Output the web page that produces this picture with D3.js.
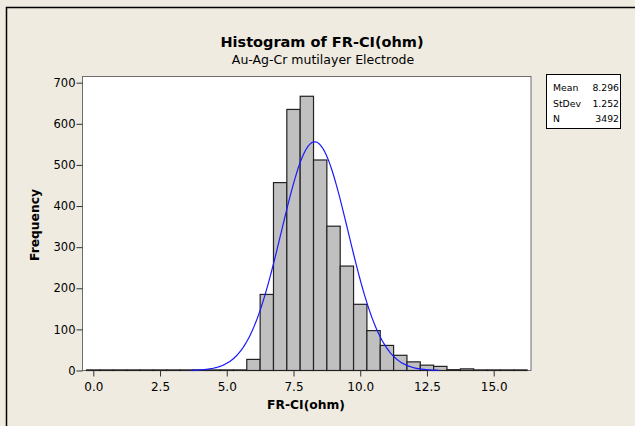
<!DOCTYPE html>
<html><head><meta charset="utf-8">
<script src="https://cdn.jsdelivr.net/npm/d3@7"></script>
<style>
html,body{margin:0;padding:0;background:#EFEBE1;}
svg{display:block;}
text{font-family:"DejaVu Sans",Verdana,sans-serif;fill:#000;}
</style></head>
<body>
<svg id="chart" width="635" height="426"></svg>
<script>
// ---- data ----
const binCenters = [0,0.5,1,1.5,2,2.5,3,3.5,4,4.5,5,5.5,6,6.5,7,7.5,8,8.5,9,9.5,10,10.5,11,11.5,12,12.5,13,13.5,14,14.5,15,15.5,16];
const counts     = [0,0,0,0,0,0,0,0,0,0,0,0,27,185,457,635,667,512,351,254,161,97,61,37,21,13,10,2,4,0,0,0,0];
const binWidth = 0.5;
const xTicks = [0,2.5,5,7.5,10,12.5,15];
const yTicks = [0,100,200,300,400,500,600,700];
const statLabels = ["Mean","StDev","N"];
const statValues = ["8.296","1.252","3492"];
const mean = 8.296, sd = 1.252, N = 3492;
const titleText = "Histogram of FR-CI(ohm)";
const subtitleText = "Au-Ag-Cr mutilayer Electrode";
const xTitle = "FR-CI(ohm)";
const yTitle = "Frequency";

const FONT = "DejaVu Sans,Verdana,sans-serif";
const svg = d3.select("#chart");
// outer frame (top & left lines)
svg.append("path").attr("d","M6.5,426 L6.5,7.5 L635,7.5").attr("fill","none").attr("stroke","#000").attr("stroke-width",1.5);

const plot = {left:82.5, right:531, top:76.5, bottom:370.5};
const x = d3.scaleLinear().domain([0,15]).range([93.3,493.7]);
const y = d3.scaleLinear().domain([0,700]).range([370.5,82.7]);

svg.append("rect").attr("x",plot.left).attr("y",plot.top)
  .attr("width",plot.right-plot.left).attr("height",plot.bottom-plot.top)
  .attr("fill","#fff").attr("stroke","#6d6d6d").attr("stroke-width",1);

// bars (empty bins are drawn as a flat outline on the baseline)
svg.append("g").selectAll("rect").data(binCenters).join("rect")
  .attr("x",(d)=>Math.max(plot.left, x(d-binWidth/2)))
  .attr("width",(d)=>x(d+binWidth/2)-Math.max(plot.left, x(d-binWidth/2)))
  .attr("y",(d,i)=>y(counts[i]) - (counts[i]===0 ? 0.6 : 0))
  .attr("height",(d,i)=>Math.max(0.6, y(0)-y(counts[i])))
  .attr("fill","#C0C0C0").attr("stroke","#222").attr("stroke-width",1.2);

// normal curve
const lo = 3.65, hi = 12.96;
const pts = d3.range(0,201).map(k=>{const v=lo+(hi-lo)*k/200;
  return [v, N*binWidth/(sd*Math.sqrt(2*Math.PI))*Math.exp(-0.5*((v-mean)/sd)**2)];});
svg.append("path").datum(pts)
  .attr("d",d3.line().x(d=>x(d[0])).y(d=>y(d[1])).curve(d3.curveBasis))
  .attr("fill","none").attr("stroke","#1a1aff").attr("stroke-width",1.2);

// axes
const xa = svg.append("g").attr("transform",`translate(0,${plot.bottom})`)
  .call(d3.axisBottom(x).tickValues(xTicks).tickFormat(d3.format(".1f")).tickSize(6).tickSizeOuter(0));
xa.select(".domain").remove();
xa.selectAll("line").attr("stroke","#333");
xa.selectAll("text").attr("font-size",12).attr("dy","0.95em").attr("font-family",FONT).attr("fill","#222");

const ya = svg.append("g").attr("transform",`translate(${plot.left},0)`)
  .call(d3.axisLeft(y).tickValues(yTicks).tickSize(6).tickSizeOuter(0));
ya.select(".domain").remove();
ya.selectAll("line").attr("stroke","#333");
ya.selectAll("text").attr("font-size",11.5).attr("x",-7).attr("font-family",FONT).attr("fill","#222");

// titles
svg.append("text").attr("x",322).attr("y",46.5).attr("text-anchor","middle")
  .attr("font-size",14.5).attr("font-weight","bold").text(titleText);
svg.append("text").attr("x",323).attr("y",63.5).attr("text-anchor","middle")
  .attr("font-size",12.5).text(subtitleText);
svg.append("text").attr("x",306).attr("y",409).attr("text-anchor","middle")
  .attr("font-size",12.3).attr("font-weight","bold").text(xTitle);
svg.append("text").attr("transform","translate(38.5,225) rotate(-90)").attr("text-anchor","middle")
  .attr("font-size",12.3).attr("font-weight","bold").text(yTitle);

// stats box
const box = svg.append("g");
box.append("rect").attr("x",546.5).attr("y",74.5).attr("width",74).attr("height",54)
  .attr("fill","#fff").attr("stroke","#000").attr("stroke-width",1);
statLabels.forEach((s,i)=>{
  box.append("text").attr("x",553).attr("y",91+i*15.5).attr("font-size",9.3).text(s);
  box.append("text").attr("x",619).attr("y",91+i*15.5).attr("font-size",9.3).attr("text-anchor","end").text(statValues[i]);
});
</script>
</body></html>
